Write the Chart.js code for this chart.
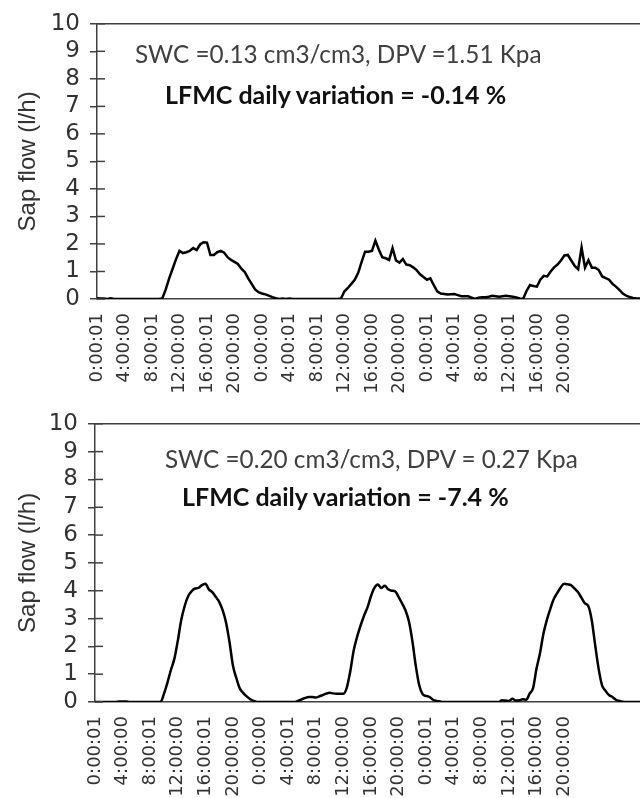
<!DOCTYPE html>
<html lang="en">
<head>
  <meta charset="UTF-8">
  <title>Sap flow</title>
  <script src="https://cdn.jsdelivr.net/npm/chart.js"></script>
  <style>
    body { margin: 0; background: #fff; width: 640px; height: 798px; overflow: hidden; position: relative; }
    .panel { position: absolute; left: 0; width: 640px; }
    .note { position: absolute; font-family: Lato, 'Noto Sans', sans-serif; font-size: 24.3px; line-height: 30px; white-space: nowrap; color: #404040; }
    .note.bold { font-size: 25px; font-weight: bold; color: #111; }
  </style>
</head>
<body>
  <div class="panel" style="top:0;height:400px"><canvas id="topChart"></canvas></div>
  <div class="panel" style="top:400px;height:398px"><canvas id="bottomChart"></canvas></div>

  <div class="note" style="left:135px;top:39px">SWC =0.13 cm3/cm3, DPV =1.51 Kpa</div>
  <div class="note bold" style="left:165px;top:79px">LFMC daily variation = -0.14 %</div>
  <div class="note" style="left:165px;top:444px">SWC =0.20 cm3/cm3, DPV = 0.27 Kpa</div>
  <div class="note bold" style="left:182px;top:481px">LFMC daily variation = -7.4 %</div>

  <script>
    // tick labels, one every 8 half-hour readings
    const tickLabels = ['0:00:01', '4:00:00', '8:00:01', '12:00:00', '16:00:01', '20:00:00',
      '0:00:00', '4:00:01', '8:00:01', '12:00:00', '16:00:00', '20:00:00',
      '0:00:01', '4:00:01', '8:00:00', '12:00:01', '16:00:00', '20:00:00'];

    // sap flow (l/h), half-hour readings, dry period
    const topFlow = [
      0.03, 0.02, 0.02, 0, 0.03, 0, 0, 0, 0, 0,
      0, 0, 0, 0, 0, 0, 0, 0, 0, 0.02,
      0.35, 0.75, 1.1, 1.45, 1.75, 1.67, 1.7, 1.75, 1.85, 1.78,
      1.98, 2.06, 2.05, 1.6, 1.6, 1.7, 1.75, 1.68, 1.52, 1.42,
      1.35, 1.27, 1.1, 0.98, 0.75, 0.55, 0.35, 0.25, 0.2, 0.17,
      0.12, 0.07, 0.03, 0, 0.02, 0, 0.02, 0, 0, 0,
      0, 0, 0, 0, 0, 0, 0, 0, 0, 0,
      0, 0.02, 0.28, 0.4, 0.55, 0.7, 0.95, 1.35, 1.72, 1.72,
      1.75, 2.12, 1.8, 1.52, 1.48, 1.42, 1.85, 1.4, 1.32, 1.45,
      1.25, 1.23, 1.15, 1.05, 0.9, 0.8, 0.7, 0.75, 0.5, 0.28,
      0.2, 0.18, 0.16, 0.17, 0.18, 0.14, 0.1, 0.1, 0.1, 0.05,
      0, 0.05, 0.06, 0.06, 0.08, 0.12, 0.1, 0.08, 0.1, 0.12,
      0.1, 0.08, 0.06, 0.02, 0, 0.3, 0.51, 0.47, 0.45, 0.7,
      0.84, 0.82, 1.0, 1.15, 1.25, 1.4, 1.58, 1.6, 1.4, 1.2,
      1.08, 1.87, 1.14, 1.41, 1.14, 1.14, 1.05, 0.82, 0.76, 0.7,
      0.55, 0.45, 0.33, 0.2, 0.12, 0.07, 0.04, 0.02, 0.02
    ];

    // sap flow (l/h), half-hour readings, wet period
    const bottomFlow = [
      0, 0, 0, 0, 0, 0, 0, 0.02, 0.02, 0.02,
      0, 0, 0, 0, 0, 0, 0, 0, 0, 0,
      0.3, 0.7, 1.15, 1.55, 2.2, 2.95, 3.45, 3.8, 3.98, 4.08,
      4.1, 4.2, 4.25, 4.05, 3.95, 3.78, 3.6, 3.3, 2.85, 2.15,
      1.3, 0.85, 0.48, 0.32, 0.2, 0.1, 0.04, 0, 0, 0,
      0, 0, 0, 0, 0, 0, 0, 0, 0, 0.05,
      0.1, 0.15, 0.18, 0.18, 0.16, 0.2, 0.25, 0.3, 0.33, 0.31,
      0.3, 0.3, 0.3, 0.52, 1.1, 1.85, 2.35, 2.75, 3.1, 3.4,
      3.8, 4.1, 4.22, 4.1, 4.18, 4.05, 4.0, 3.98, 3.78, 3.55,
      3.3, 2.9, 2.2, 1.3, 0.6, 0.28, 0.22, 0.18, 0.08, 0.04,
      0.02, 0, 0, 0, 0, 0, 0, 0, 0, 0,
      0, 0, 0, 0, 0, 0, 0, 0, 0.06, 0.05,
      0.04, 0.12, 0.05, 0.06, 0.1, 0.08, 0.3, 0.5, 1.2, 1.75,
      2.45, 2.95, 3.35, 3.7, 3.92, 4.12, 4.25, 4.23, 4.2, 4.08,
      3.95, 3.75, 3.55, 3.45, 2.95, 2.05, 1.2, 0.6, 0.4, 0.25,
      0.18, 0.08, 0.04, 0.01, 0, 0, 0, 0, 0
    ];

    const categories = topFlow.map((_, i) => (i % 8 === 0 && tickLabels[i / 8]) || '');

    const axisColor = '#404040';
    const labelColor = '#333';

    // short tick marks that cross the y axis into the plot
    const innerTicks = {
      id: 'innerTicks',
      afterDatasetsDraw(chart) {
        const y = chart.scales.y, ctx = chart.ctx, x0 = chart.chartArea.left;
        ctx.save();
        ctx.strokeStyle = axisColor;
        ctx.lineWidth = 1.5;
        y.ticks.forEach(t => {
          const py = y.getPixelForValue(t.value);
          ctx.beginPath();
          ctx.moveTo(x0, py);
          ctx.lineTo(x0 + 8, py);
          ctx.stroke();
        });
        ctx.restore();
      }
    };

    function makeChart(id, values, axisLeft, areaTop, areaBottom, canvasHeight, smooth) {
      return new Chart(document.getElementById(id), {
        type: 'line',
        data: {
          labels: categories,
          datasets: [{
            data: values,
            borderColor: '#000',
            borderWidth: 2.5,
            pointRadius: 0,
            tension: smooth ? 0.4 : 0,
            cubicInterpolationMode: smooth ? 'monotone' : 'default'
          }]
        },
        options: {
          responsive: true,
          maintainAspectRatio: false,
          animation: false,
          layout: { padding: { top: areaTop, right: 0, left: 0, bottom: 0 } },
          plugins: { legend: { display: false }, tooltip: { enabled: false } },
          scales: {
            x: {
              offset: false,
              grid: { display: false, drawTicks: false },
              border: { display: true, color: axisColor, width: 1.5 },
              ticks: {
                autoSkip: false, maxRotation: 90, minRotation: 90, padding: 14,
                color: labelColor, font: { family: "'DejaVu Sans', sans-serif", size: 18 }
              },
              afterFit: s => { s.height = canvasHeight - areaBottom; s.paddingRight = 0; }
            },
            y: {
              min: 0, max: 10,
              ticks: {
                stepSize: 1, autoSkip: false, padding: 10, color: labelColor,
                font: { family: "'DejaVu Sans', sans-serif", size: 23 }
              },
              grid: {
                color: c => (c.tick && c.tick.value === 10) ? axisColor : 'rgba(0,0,0,0)',
                lineWidth: 1.5, tickColor: axisColor, tickLength: 7
              },
              border: { display: true, color: axisColor, width: 1.5 },
              title: {
                display: true, text: 'Sap flow (l/h)', color: labelColor,
                font: { family: "'Liberation Sans', Arial, sans-serif", size: 24 },
                padding: { top: 14, bottom: 0 }
              },
              afterFit: s => { s.width = axisLeft; }
            }
          }
        },
        plugins: [innerTicks]
      });
    }

    makeChart('topChart', topFlow, 97, 20, 299, 400, false);
    makeChart('bottomChart', bottomFlow, 95, 23, 302, 398, true);
  </script>
</body>
</html>
